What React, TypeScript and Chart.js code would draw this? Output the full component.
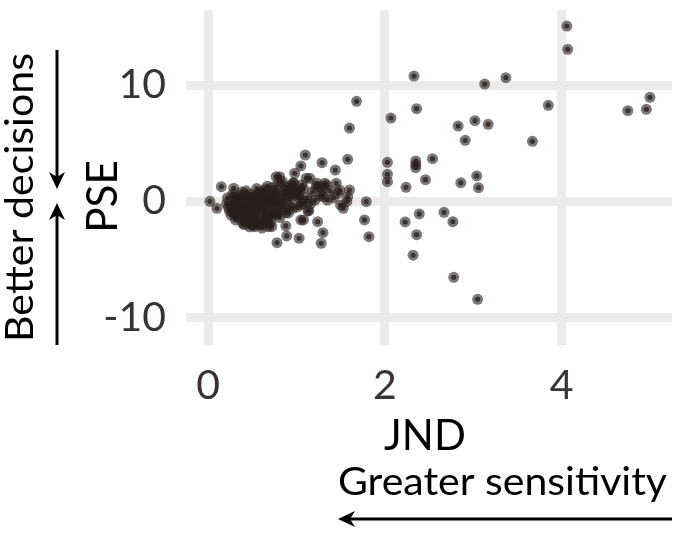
import React, { useEffect, useRef } from "react";
import { Chart, registerables } from "chart.js";

Chart.register(...registerables);

// JND (x) and PSE (y) pairs
const outlierPoints: [number, number][] = [
  [4.06, 15.07], [4.07, 13.07], [2.33, 10.77], [3.13, 10.08], [3.37, 10.63],
  [5.0, 8.94], [4.75, 7.79], [4.96, 7.91], [3.85, 8.25], [2.36, 7.96],
  [2.07, 7.16], [2.83, 6.47], [3.02, 6.93], [3.17, 6.62], [2.91, 5.24],
  [3.67, 5.16], [2.03, 3.35], [2.35, 3.47], [2.35, 2.89], [2.35, 3.15],
  [2.54, 3.66], [2.03, 2.32], [2.03, 1.69], [2.24, 1.2], [2.46, 1.86],
  [2.86, 1.6], [3.04, 2.18], [3.06, 1.17], [2.39, -1.09], [2.23, -1.78],
  [2.67, -0.95], [2.77, -1.75], [2.36, -2.87], [2.32, -4.64], [2.78, -6.54],
  [3.05, -8.43], [1.68, 8.6], [1.6, 6.3],
];

const midPoints: [number, number][] = [
  [1.1, 3.98], [1.05, 3.04], [1.29, 3.32], [1.58, 3.61], [1.44, 2.69],
  [0.77, 2.12], [0.98, 2.41], [1.15, 1.98], [1.32, 1.55], [1.45, 1.55],
  [1.25, 1.26], [1.49, 0.97], [1.6, 0.97], [1.58, 0.4], [1.35, 0.11],
  [1.5, -0.32], [1.53, -0.6], [1.21, 0.11], [1.79, -0.03], [1.77, -1.6],
  [1.82, -3.04], [1.14, -0.81], [1.05, -1.6], [1.24, -1.75], [1.3, -2.7],
  [1.28, -3.61], [1.03, -3.18], [0.88, -2.12], [0.89, -2.98], [0.78, -3.56],
  [0.72, -2.18], [0.93, 1.26], [1.34, 1.4], [1.47, 0.69], [1.3, 0.4],
  [1.11, 1.98], [0.96, 1.55], [1.23, 1.55], [0.81, 2.12], [0.77, -1.03],
  [0.66, -1.61], [0.55, -1.61], [0.68, -2.18], [0.53, -2.18], [1.57, -0.03],
  [1.13, -0.83], [1.08, -1.6], [1.02, 0.6], [1.08, 1.1], [1.12, 0.3],
  [1.18, 0.8], [1.27, 0.5], [1.38, 0.9], [1.42, 0.3], [1.05, -0.3],
  [1.16, -0.2], [1.22, 1.2], [1.0, 1.0], [1.09, 0.0], [1.3, 1.0],
  [0.02, 0.0], [0.15, 1.26], [0.1, -0.6], [0.29, 1.12],
];

const blobPoints: [number, number][] = [
  [0.21, -0.2], [0.22, 0.3], [0.24, -0.8], [0.26, -1.2], [0.27, 0.0], [0.23, -0.5], [0.28, 0.6], [0.29, -1.0],
  [0.31, -1.6], [0.32, -1.2], [0.33, -0.9], [0.34, -0.5], [0.35, -0.2], [0.36, 0.1], [0.37, 0.5], [0.38, 0.8],
  [0.31, -0.3], [0.33, -0.7], [0.39, -1.9], [0.32, 0.2], [0.37, -1.4],
  [0.41, -2.0], [0.42, -1.7], [0.43, -1.3], [0.44, -1.0], [0.45, -0.6], [0.46, -0.3], [0.47, 0.0], [0.48, 0.3],
  [0.49, 0.6], [0.43, 0.9], [0.41, -0.8], [0.46, -0.1], [0.48, -1.5], [0.44, 0.4], [0.47, -2.2],
  [0.51, -2.1], [0.52, -1.6], [0.53, -1.1], [0.54, -0.7], [0.55, -0.4], [0.56, -0.1], [0.57, 0.2], [0.58, 0.5],
  [0.59, 0.8], [0.55, 1.1], [0.51, -0.9], [0.53, -1.3], [0.58, 0.0], [0.52, -0.5], [0.57, 0.6], [0.59, -1.8],
  [0.61, -2.3], [0.62, -1.9], [0.63, -1.4], [0.64, -1.0], [0.65, -0.6], [0.66, -0.2], [0.67, 0.1], [0.68, 0.4],
  [0.69, 0.7], [0.64, 1.0], [0.67, 1.3], [0.61, -0.8], [0.63, -0.3], [0.66, 0.3], [0.69, -1.2],
  [0.71, -1.8], [0.72, -1.3], [0.73, -0.9], [0.74, -0.5], [0.75, -0.1], [0.76, 0.2], [0.77, 0.6], [0.78, 0.9],
  [0.73, 1.2], [0.79, 1.5], [0.71, -0.3], [0.75, 0.4], [0.78, -1.1],
  [0.81, -1.4], [0.82, -0.8], [0.83, -0.3], [0.84, 0.1], [0.85, 0.5], [0.86, 0.9], [0.87, 1.3], [0.84, 1.7],
  [0.88, -1.0], [0.89, 0.3],
  [0.91, -1.0], [0.92, -0.4], [0.93, 0.2], [0.94, 0.7], [0.95, 1.1], [0.97, 1.6], [0.96, -0.6], [0.99, 0.5],
  [1.01, -0.5], [1.03, 0.3], [1.04, 0.9], [1.06, 1.4], [1.07, -0.2],
  [0.4, -0.4], [0.5, 0.1], [0.6, -0.5], [0.45, -1.2], [0.55, -1.5], [0.62, 0.6], [0.7, 0.0], [0.8, -0.2],
  [0.35, -1.1], [0.42, 0.1], [0.52, 0.4], [0.66, -1.6], [0.58, -2.0], [0.48, -1.8], [0.38, -0.6], [0.26, -0.4],
  [0.3, 0.4], [0.74, 0.8], [0.86, -0.5], [0.9, 0.9],
];

const xTicks = [0, 2, 4];
const yTicks = [-10, 0, 10];
const xRange = [-0.25, 5.25];
const yRange = [-12.36, 16.45];

const xTitle = "JND";
const yTitle = "PSE";
const leftNote = "Better decisions";
const bottomNote = "Greater sensitivity";

const FONT = "Lato, 'Open Sans', sans-serif";

function drawArrowHead(ctx: CanvasRenderingContext2D, tipX: number, tipY: number, dx: number, dy: number) {
  const len = 17;
  const half = 8;
  const notch = 5;
  const bx = tipX - dx * len;
  const by = tipY - dy * len;
  const px = -dy;
  const py = dx;
  ctx.beginPath();
  ctx.moveTo(tipX, tipY);
  ctx.lineTo(bx + px * half, by + py * half);
  ctx.lineTo(tipX - dx * (len - notch), tipY - dy * (len - notch));
  ctx.lineTo(bx - px * half, by - py * half);
  ctx.closePath();
  ctx.fill();
}

function fitText(ctx: CanvasRenderingContext2D, text: string, cx: number, baseY: number, targetW: number) {
  const w = ctx.measureText(text).width;
  const s = targetW / w;
  ctx.save();
  ctx.translate(cx, baseY);
  ctx.scale(s, 1);
  ctx.textAlign = "center";
  ctx.textBaseline = "alphabetic";
  ctx.fillText(text, 0, 0);
  ctx.restore();
}

const annotations = {
  id: "annotations",
  afterDraw(chart: any) {
    const ctx: CanvasRenderingContext2D = chart.ctx;
    ctx.save();
    ctx.fillStyle = "#000";
    ctx.strokeStyle = "#000";

    ctx.font = `42px ${FONT}`;
    ctx.textAlign = "center";
    ctx.textBaseline = "alphabetic";
    ctx.fillText(xTitle, 425, 450);
    ctx.save();
    ctx.translate(117, 196.5);
    ctx.rotate(-Math.PI / 2);
    ctx.fillText(yTitle, 0, 0);
    ctx.restore();

    ctx.font = `38px ${FONT}`;
    fitText(ctx, bottomNote, 502.5, 495, 329);
    ctx.save();
    ctx.translate(33, 197.5);
    ctx.rotate(-Math.PI / 2);
    fitText(ctx, leftNote, 0, 0, 289);
    ctx.restore();

    ctx.lineWidth = 3;
    ctx.beginPath();
    ctx.moveTo(57, 50);
    ctx.lineTo(57, 180);
    ctx.stroke();
    drawArrowHead(ctx, 57, 189, 0, 1);

    ctx.beginPath();
    ctx.moveTo(57, 345);
    ctx.lineTo(57, 212);
    ctx.stroke();
    drawArrowHead(ctx, 57, 203, 0, -1);

    ctx.beginPath();
    ctx.moveTo(672, 519);
    ctx.lineTo(347, 519);
    ctx.stroke();
    drawArrowHead(ctx, 338, 519, -1, 0);

    ctx.restore();
  },
};

export default function App() {
  const ref = useRef<HTMLCanvasElement | null>(null);

  useEffect(() => {
    if (!ref.current) return;
    const all = [...blobPoints, ...midPoints, ...outlierPoints].map(([x, y]) => ({ x, y }));
    const chart = new Chart(ref.current, {
      type: "scatter",
      data: {
        datasets: [
          {
            data: all,
            pointRadius: 5.5,
            pointBorderWidth: 0,
            backgroundColor: "rgba(40,30,28,0.6)",
            borderColor: "rgba(0,0,0,0)",
          },
          {
            data: all,
            pointRadius: 2.6,
            pointBorderWidth: 0,
            backgroundColor: "rgba(30,22,20,0.72)",
            borderColor: "rgba(0,0,0,0)",
          },
        ],
      },
      options: {
        responsive: false,
        animation: false,
        devicePixelRatio: 1,
        layout: { padding: { left: 0, right: 14, top: 10, bottom: 0 } },
        plugins: { legend: { display: false }, tooltip: { enabled: false } },
        scales: {
          x: {
            type: "linear",
            min: xRange[0],
            max: xRange[1],
            afterBuildTicks: (scale: any) => {
              scale.ticks = xTicks.map((v) => ({ value: v }));
            },
            afterFit: (scale: any) => {
              scale.height = 188;
              scale.paddingLeft = 0;
              scale.paddingRight = 0;
            },
            grid: { color: "#EDEBE9", lineWidth: 9, drawTicks: false },
            border: { display: false },
            ticks: {
              color: "#3a3333",
              font: { family: FONT, size: 41 },
              padding: 16,
              maxRotation: 0,
              callback: (v: any) => String(v),
            },
          },
          y: {
            type: "linear",
            min: yRange[0],
            max: yRange[1],
            afterBuildTicks: (scale: any) => {
              scale.ticks = yTicks.map((v) => ({ value: v }));
            },
            afterFit: (scale: any) => {
              scale.width = 186;
              scale.paddingTop = 0;
              scale.paddingBottom = 0;
            },
            grid: { color: "#EDEBE9", lineWidth: 9, drawTicks: false },
            border: { display: false },
            ticks: {
              color: "#3a3333",
              font: { family: FONT, size: 41 },
              padding: 20,
              callback: (v: any) => String(v),
            },
          },
        },
      },
      plugins: [annotations],
    });
    return () => chart.destroy();
  }, []);

  return (
    <div style={{ position: "fixed", left: 0, top: 0, width: 686, height: 533, background: "#fff" }}>
      <canvas ref={ref} width={686} height={533} />
    </div>
  );
}
